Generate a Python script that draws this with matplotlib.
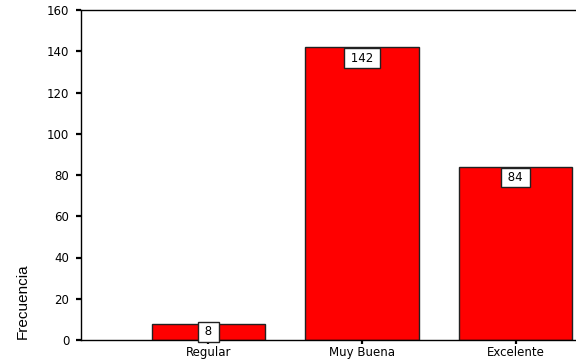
import matplotlib
matplotlib.use("Agg")
import matplotlib.pyplot as plt

categories = ["Regular", "Muy Buena", "Excelente"]
counts = [8, 142, 84]
y_ticks = [0, 20, 40, 60, 80, 100, 120, 140, 160]

plt.rcParams["font.family"] = ["DejaVu Sans"]

fig = plt.figure(figsize=(5.76, 3.6), dpi=100)
ax = fig.add_axes([81 / 576, 20 / 360, 1 - 81 / 576, 330 / 360])

x = list(range(len(categories)))
ax.bar(x, counts, width=0.74, color="#ff0000", edgecolor="#222222", linewidth=1.0)

# value boxes sit just inside the top of each bar
for xi, v in zip(x, counts):
    yc = max(v - 5.3, 4.0)
    ax.text(xi, yc, f" {v} ", ha="center", va="center", fontsize=8.5,
            bbox=dict(boxstyle="square,pad=0.28", facecolor="white",
                      edgecolor="#222222", linewidth=1.0))

ax.set_xlim(-0.83, 2.394)
ax.set_ylim(0, 160)
ax.set_yticks(y_ticks)
ax.set_xticks(x)
ax.set_xticklabels(categories, fontsize=8.5)
ax.tick_params(axis="y", labelsize=8.5, length=3.5, width=1.6, direction="out", pad=5)
ax.tick_params(axis="x", length=3, width=1.6, direction="out", pad=1.5)
for s in ["left", "bottom", "top"]:
    ax.spines[s].set_linewidth(1.0)
ax.spines["right"].set_visible(False)

fig.text(22.5 / 576, 21 / 360, "Frecuencia", rotation=90, ha="center", va="bottom",
         fontsize=11, family=["Liberation Sans", "DejaVu Sans"])

fig.savefig("out.png", dpi=100)
